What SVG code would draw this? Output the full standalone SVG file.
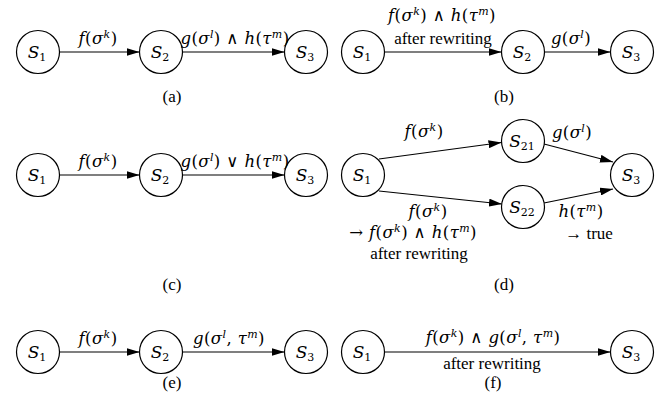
<svg xmlns="http://www.w3.org/2000/svg" width="672" height="394" viewBox="0 0 672 394">
<defs>
<marker id="ah" markerUnits="userSpaceOnUse" markerWidth="13" markerHeight="8" refX="13" refY="4" orient="auto">
<path d="M0,0 L13,4 L0,8 z" fill="#000"/>
</marker>
<style>
.n circle{fill:#fff;stroke:#000;stroke-width:1.2}
.e path{stroke:#000;stroke-width:1.2;fill:none;marker-end:url(#ah)}
.m{font-family:"DejaVu Serif","Liberation Serif",serif;font-style:italic;font-size:16.5px;letter-spacing:0.4px;fill:#000}
.nl{font-family:"DejaVu Serif","Liberation Serif",serif;font-style:italic;font-size:17px;fill:#000}
.u{font-style:normal}
.s{font-size:11px}
.r{font-family:"Liberation Serif","Times New Roman",serif;font-size:17px;fill:#000}
</style>
</defs>
<rect width="672" height="394" fill="#fff"/>

<!-- connectors -->
<g id="connectors" class="e">
<path d="M59.5,52 H139.5"/>
<path d="M182.5,52 H284.5"/>
<path d="M384.5,52 H501.5"/>
<path d="M544.5,52 H610.5"/>
<path d="M59.5,175 H139.5"/>
<path d="M182.5,175 H284.5"/>
<path d="M379,159 L501.5,142.5"/>
<path d="M379,191 L502,204"/>
<path d="M544,144 L613,162"/>
<path d="M544,203 L613,189"/>
<path d="M59.5,352 H139.5"/>
<path d="M182.5,352 H284.5"/>
<path d="M384.5,352 H610.5"/>
</g>

<!-- panel (a) -->
<g id="a-S1" class="n"><circle cx="38" cy="52" r="21.5"/><text class="nl" x="37" y="58" text-anchor="middle">S<tspan class="u s" dy="3">1</tspan></text></g>
<g id="a-S2" class="n"><circle cx="161" cy="52" r="21.5"/><text class="nl" x="160" y="58" text-anchor="middle">S<tspan class="u s" dy="3">2</tspan></text></g>
<g id="a-S3" class="n"><circle cx="306" cy="52" r="21.5"/><text class="nl" x="305" y="58" text-anchor="middle">S<tspan class="u s" dy="3">3</tspan></text></g>
<text class="m" x="98" y="44" text-anchor="middle">f<tspan class="u">(</tspan>σ<tspan class="s" dy="-6">k</tspan><tspan class="u" dy="6">)</tspan></text>
<text class="m" x="235" y="44" text-anchor="middle">g<tspan class="u">(</tspan>σ<tspan class="s" dy="-6">l</tspan><tspan class="u" dy="6">) ∧ </tspan>h<tspan class="u">(</tspan>τ<tspan class="s" dy="-6">m</tspan><tspan class="u" dy="6">)</tspan></text>
<text class="r" x="172" y="102" text-anchor="middle">(a)</text>

<!-- panel (b) -->
<g id="b-S1" class="n"><circle cx="363" cy="52" r="21.5"/><text class="nl" x="362" y="58" text-anchor="middle">S<tspan class="u s" dy="3">1</tspan></text></g>
<g id="b-S2" class="n"><circle cx="523" cy="52" r="21.5"/><text class="nl" x="522" y="58" text-anchor="middle">S<tspan class="u s" dy="3">2</tspan></text></g>
<g id="b-S3" class="n"><circle cx="632" cy="52" r="21.5"/><text class="nl" x="631" y="58" text-anchor="middle">S<tspan class="u s" dy="3">3</tspan></text></g>
<text class="m" x="442" y="21" text-anchor="middle">f<tspan class="u">(</tspan>σ<tspan class="s" dy="-6">k</tspan><tspan class="u" dy="6">) ∧ </tspan>h<tspan class="u">(</tspan>τ<tspan class="s" dy="-6">m</tspan><tspan class="u" dy="6">)</tspan></text>
<text class="r" x="443" y="44" text-anchor="middle">after rewriting</text>
<text class="m" x="571" y="44" text-anchor="middle">g<tspan class="u">(</tspan>σ<tspan class="s" dy="-6">l</tspan><tspan class="u" dy="6">)</tspan></text>
<text class="r" x="504" y="102" text-anchor="middle">(b)</text>

<!-- panel (c) -->
<g id="c-S1" class="n"><circle cx="38" cy="175" r="21.5"/><text class="nl" x="37" y="181" text-anchor="middle">S<tspan class="u s" dy="3">1</tspan></text></g>
<g id="c-S2" class="n"><circle cx="161" cy="175" r="21.5"/><text class="nl" x="160" y="181" text-anchor="middle">S<tspan class="u s" dy="3">2</tspan></text></g>
<g id="c-S3" class="n"><circle cx="306" cy="175" r="21.5"/><text class="nl" x="305" y="181" text-anchor="middle">S<tspan class="u s" dy="3">3</tspan></text></g>
<text class="m" x="98" y="167" text-anchor="middle">f<tspan class="u">(</tspan>σ<tspan class="s" dy="-6">k</tspan><tspan class="u" dy="6">)</tspan></text>
<text class="m" x="235" y="167" text-anchor="middle">g<tspan class="u">(</tspan>σ<tspan class="s" dy="-6">l</tspan><tspan class="u" dy="6">) ∨ </tspan>h<tspan class="u">(</tspan>τ<tspan class="s" dy="-6">m</tspan><tspan class="u" dy="6">)</tspan></text>
<text class="r" x="172" y="290" text-anchor="middle">(c)</text>

<!-- panel (d) -->
<g id="d-S1" class="n"><circle cx="363" cy="175" r="21.5"/><text class="nl" x="362" y="181" text-anchor="middle">S<tspan class="u s" dy="3">1</tspan></text></g>
<g id="d-S21" class="n"><circle cx="523" cy="141" r="21.5"/><text class="nl" x="522" y="147" text-anchor="middle">S<tspan class="u s" dy="3">21</tspan></text></g>
<g id="d-S22" class="n"><circle cx="523" cy="207" r="21.5"/><text class="nl" x="522" y="213" text-anchor="middle">S<tspan class="u s" dy="3">22</tspan></text></g>
<g id="d-S3" class="n"><circle cx="632" cy="175" r="21.5"/><text class="nl" x="631" y="181" text-anchor="middle">S<tspan class="u s" dy="3">3</tspan></text></g>
<text class="m" x="424" y="137" text-anchor="middle">f<tspan class="u">(</tspan>σ<tspan class="s" dy="-6">k</tspan><tspan class="u" dy="6">)</tspan></text>
<text class="m" x="572" y="138" text-anchor="middle">g<tspan class="u">(</tspan>σ<tspan class="s" dy="-6">l</tspan><tspan class="u" dy="6">)</tspan></text>
<text class="m" x="428" y="217" text-anchor="middle">f<tspan class="u">(</tspan>σ<tspan class="s" dy="-6">k</tspan><tspan class="u" dy="6">)</tspan></text>
<text class="m" x="413" y="238" text-anchor="middle"><tspan class="u">→ </tspan>f<tspan class="u">(</tspan>σ<tspan class="s" dy="-6">k</tspan><tspan class="u" dy="6">) ∧ </tspan>h<tspan class="u">(</tspan>τ<tspan class="s" dy="-6">m</tspan><tspan class="u" dy="6">)</tspan></text>
<text class="r" x="419" y="259" text-anchor="middle">after rewriting</text>
<text class="m" x="581" y="217" text-anchor="middle">h<tspan class="u">(</tspan>τ<tspan class="s" dy="-6">m</tspan><tspan class="u" dy="6">)</tspan></text>
<text class="r" x="589" y="239" text-anchor="middle">→ true</text>
<text class="r" x="504" y="290" text-anchor="middle">(d)</text>

<!-- panel (e) -->
<g id="e-S1" class="n"><circle cx="38" cy="352" r="21.5"/><text class="nl" x="37" y="358" text-anchor="middle">S<tspan class="u s" dy="3">1</tspan></text></g>
<g id="e-S2" class="n"><circle cx="161" cy="352" r="21.5"/><text class="nl" x="160" y="358" text-anchor="middle">S<tspan class="u s" dy="3">2</tspan></text></g>
<g id="e-S3" class="n"><circle cx="306" cy="352" r="21.5"/><text class="nl" x="305" y="358" text-anchor="middle">S<tspan class="u s" dy="3">3</tspan></text></g>
<text class="m" x="98" y="344" text-anchor="middle">f<tspan class="u">(</tspan>σ<tspan class="s" dy="-6">k</tspan><tspan class="u" dy="6">)</tspan></text>
<text class="m" x="229" y="344" text-anchor="middle">g<tspan class="u">(</tspan>σ<tspan class="s" dy="-6">l</tspan><tspan class="u" dy="6">, </tspan>τ<tspan class="s" dy="-6">m</tspan><tspan class="u" dy="6">)</tspan></text>
<text class="r" x="172" y="388" text-anchor="middle">(e)</text>

<!-- panel (f) -->
<g id="f-S1" class="n"><circle cx="363" cy="352" r="21.5"/><text class="nl" x="362" y="358" text-anchor="middle">S<tspan class="u s" dy="3">1</tspan></text></g>
<g id="f-S3" class="n"><circle cx="632" cy="352" r="21.5"/><text class="nl" x="631" y="358" text-anchor="middle">S<tspan class="u s" dy="3">3</tspan></text></g>
<text class="m" x="493" y="343" text-anchor="middle">f<tspan class="u">(</tspan>σ<tspan class="s" dy="-6">k</tspan><tspan class="u" dy="6">) ∧ </tspan>g<tspan class="u">(</tspan>σ<tspan class="s" dy="-6">l</tspan><tspan class="u" dy="6">, </tspan>τ<tspan class="s" dy="-6">m</tspan><tspan class="u" dy="6">)</tspan></text>
<text class="r" x="492" y="369" text-anchor="middle">after rewriting</text>
<text class="r" x="493" y="388" text-anchor="middle">(f)</text>
</svg>
